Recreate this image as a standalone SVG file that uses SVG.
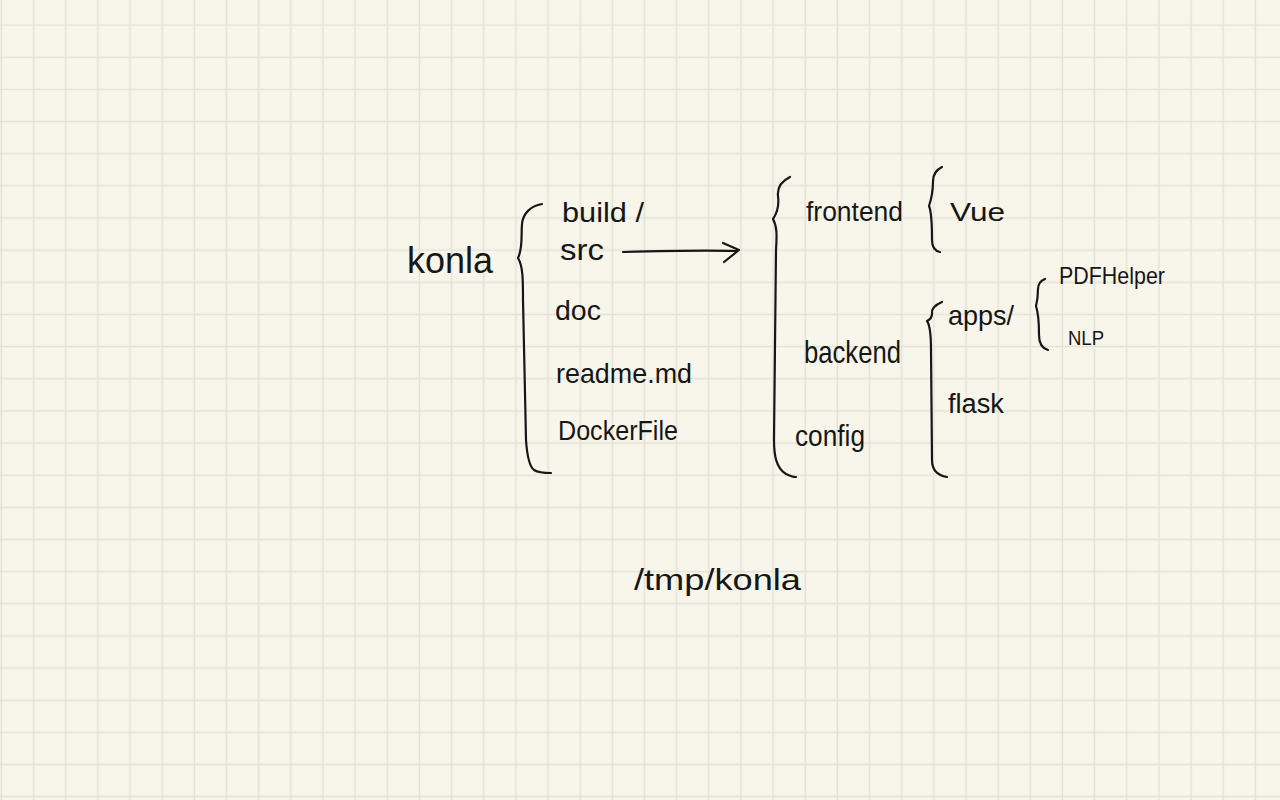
<svg xmlns="http://www.w3.org/2000/svg" width="1280" height="800" viewBox="0 0 1280 800">
  <defs>
    <pattern id="grid" patternUnits="userSpaceOnUse" x="-14.5" y="9" width="32.15" height="32.15">
      <path d="M16 0 V32.15 M0 16 H32.15" stroke="#e4e2d7" stroke-width="1.5" fill="none"/>
    </pattern>
    <style>
      .hw { font-family: "Liberation Sans", Arial, sans-serif; fill: #161616; }
      .ink { fill: none; stroke: #161616; stroke-width: 2.2; stroke-linecap: round; stroke-linejoin: round; }
    </style>
  </defs>
  <rect width="1280" height="800" fill="#f8f6ea"/>
  <rect width="1280" height="800" fill="url(#grid)"/>

  <g id="connectors">
    <!-- brace konla -->
    <path class="ink" d="M542 204 C531 206 523 213 522 224 C521 236 523 248 518 258 C523 266 523 280 523 300 L526 440 C527 455 529 466 534 470 C539 473 545 473 551 473"/>
    <!-- arrow src -> src contents -->
    <path class="ink" d="M623 252 C660 251 700 250 737 251"/>
    <path class="ink" d="M723 243 L739 250 L724 262"/>
    <!-- brace src contents -->
    <path class="ink" d="M790 177 C782 181 777 187 778 196 C779 204 778 212 773 219 C777 226 777 235 776 250 L774 440 C774 455 776 468 786 474 C790 476 793 477 796 477"/>
    <!-- brace frontend -->
    <path class="ink" d="M942 167 C936 170 933 174 933 181 C933 190 931 200 929 206 C932 213 932 225 932 240 C932 247 935 251 940 252"/>
    <!-- brace backend -->
    <path class="ink" d="M942 302 C935 305 931 309 932 314 C932 318 929 320 927 321 C930 325 931 335 931 350 L932 460 C932 468 935 475 947 477"/>
    <!-- brace apps -->
    <path class="ink" d="M1045 279 C1040 281 1038 284 1038 289 C1038 296 1037 302 1036 306 C1038 312 1039 322 1039 335 C1039 343 1041 348 1048 350"/>
  </g>

  <g id="node-konla">
    <text class="hw" x="407" y="273" font-size="36" textLength="86" lengthAdjust="spacingAndGlyphs">konla</text>
  </g>
  <g id="node-build">
    <text class="hw" x="562" y="222" font-size="27" textLength="82" lengthAdjust="spacingAndGlyphs">build /</text>
  </g>
  <g id="node-src">
    <text class="hw" x="560" y="260" font-size="30" textLength="44" lengthAdjust="spacingAndGlyphs">src</text>
  </g>
  <g id="node-doc">
    <text class="hw" x="555" y="320" font-size="28" textLength="46" lengthAdjust="spacingAndGlyphs">doc</text>
  </g>
  <g id="node-readme">
    <text class="hw" x="556" y="383" font-size="28" textLength="136" lengthAdjust="spacingAndGlyphs">readme.md</text>
  </g>
  <g id="node-dockerfile">
    <text class="hw" x="558" y="440" font-size="28" textLength="120" lengthAdjust="spacingAndGlyphs">DockerFile</text>
  </g>
  <g id="node-frontend">
    <text class="hw" x="806" y="221" font-size="27" textLength="97" lengthAdjust="spacingAndGlyphs">frontend</text>
  </g>
  <g id="node-vue">
    <text class="hw" x="950" y="221" font-size="26" textLength="55" lengthAdjust="spacingAndGlyphs">Vue</text>
  </g>
  <g id="node-backend">
    <text class="hw" x="804" y="363" font-size="32" textLength="97" lengthAdjust="spacingAndGlyphs">backend</text>
  </g>
  <g id="node-config">
    <text class="hw" x="795" y="446" font-size="30" textLength="70" lengthAdjust="spacingAndGlyphs">config</text>
  </g>
  <g id="node-apps">
    <text class="hw" x="948" y="325" font-size="28" textLength="66" lengthAdjust="spacingAndGlyphs">apps/</text>
  </g>
  <g id="node-flask">
    <text class="hw" x="948" y="413" font-size="27" textLength="56" lengthAdjust="spacingAndGlyphs">flask</text>
  </g>
  <g id="node-pdfhelper">
    <text class="hw" x="1059" y="284" font-size="24" textLength="106" lengthAdjust="spacingAndGlyphs">PDFHelper</text>
  </g>
  <g id="node-nlp">
    <text class="hw" x="1068" y="345" font-size="21" textLength="36" lengthAdjust="spacingAndGlyphs">NLP</text>
  </g>
  <g id="node-tmp">
    <text class="hw" x="634" y="590" font-size="30" textLength="167" lengthAdjust="spacingAndGlyphs">/tmp/konla</text>
  </g>
</svg>
